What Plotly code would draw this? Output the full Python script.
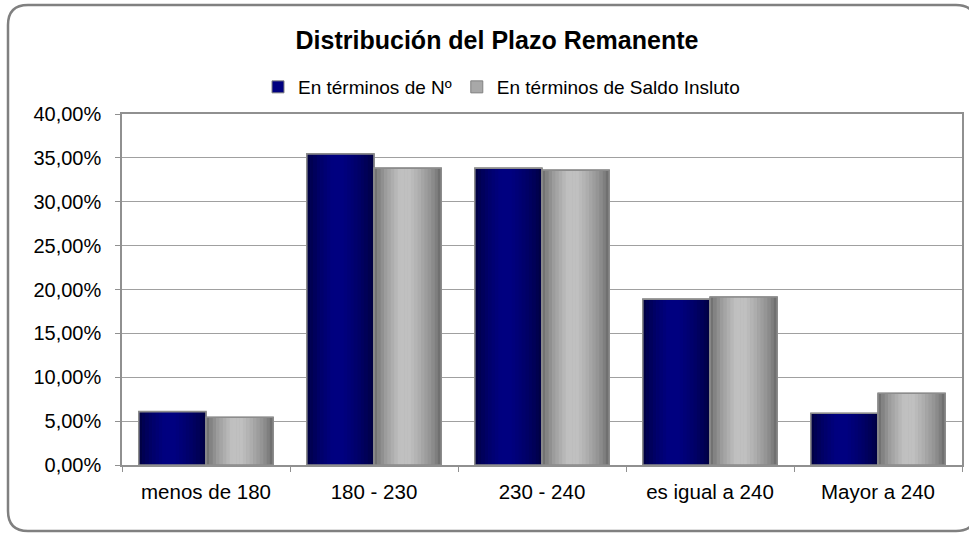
import plotly.graph_objects as go

categories = ["menos de 180", "180 - 230", "230 - 240", "es igual a 240", "Mayor a 240"]
serie_num = [0.0608, 0.3546, 0.3383, 0.1890, 0.0590]
serie_saldo = [0.0544, 0.3383, 0.3360, 0.1915, 0.0818]
series_names = ["En términos de Nº", "En términos de Saldo Insluto"]

W_PX, H_PX = 969, 535
L, R, T, B = 122, 7, 114, 70
PW, PH = W_PX - L - R, H_PX - T - B

def px2paper(x, y):
    return (x - L) / PW, (H_PX - B - y) / PH

def lerp(c1, c2, t):
    return "rgb(%d,%d,%d)" % tuple(round(a + (b - a) * t) for a, b in zip(c1, c2))

def shade(edge, peak, t):
    p = 0.45
    if t < p:
        u = t / p
    else:
        u = (1 - t) / (1 - p)
    u = min(1.0, u ** 0.6 * 1.1)
    return lerp(edge, peak, u)

fig = go.Figure()
bw = 0.4
N = 20
specs = [
    (serie_num, series_names[0], -bw, (0, 0, 55), (0, 0, 128), "#000080"),
    (serie_saldo, series_names[1], 0.0, (95, 95, 95), (192, 192, 192), "#A8A8A8"),
]
for vals, name, off, edge, peak, solid in specs:
    fig.add_trace(go.Bar(x=categories, y=vals, name=name, width=bw, offset=off,
                         marker=dict(color=solid, line=dict(color="#808080", width=1)),
                         showlegend=True, hoverinfo="skip"))
    for k in range(N):
        t = (k + 0.5) / N
        fig.add_trace(go.Bar(x=categories, y=vals, width=bw / N * 1.08,
                             offset=off + k * bw / N,
                             marker=dict(color=shade(edge, peak, t), line=dict(width=0)),
                             showlegend=False, hoverinfo="skip"))
    fig.add_trace(go.Bar(x=categories, y=vals, width=bw, offset=off,
                         marker=dict(color="rgba(0,0,0,0)", line=dict(color="#8c8c8c", width=1.6)),
                         showlegend=False, hovertemplate="%{x}: %{y:.2%}<extra>" + name + "</extra>"))

# rounded outer border
x0, y0, x1, y1, r = 8, 5, 976, 531, 20
def P(x, y):
    a, b = px2paper(x, y)
    return "%.5f,%.5f" % (a, b)
path = ("M " + P(x0 + r, y0) + " L " + P(x1 - r, y0) + " Q " + P(x1, y0) + " " + P(x1, y0 + r) +
        " L " + P(x1, y1 - r) + " Q " + P(x1, y1) + " " + P(x1 - r, y1) +
        " L " + P(x0 + r, y1) + " Q " + P(x0, y1) + " " + P(x0, y1 - r) +
        " L " + P(x0, y0 + r) + " Q " + P(x0, y0) + " " + P(x0 + r, y0) + " Z")

lx, ly = px2paper(258, 87)
fig.update_layout(
    width=W_PX, height=H_PX,
    margin=dict(l=L, r=R, t=T, b=B, autoexpand=False),
    paper_bgcolor="white", plot_bgcolor="white",
    barmode="overlay",
    separators=",.",
    font=dict(family="Liberation Sans, Arial, sans-serif", size=20, color="black"),
    title=dict(text="<b>Distribución del Plazo Remanente</b>", x=497 / W_PX, xanchor="center",
               y=1 - 40 / H_PX, yanchor="middle", xref="container", yref="container",
               font=dict(size=25, color="black")),
    legend=dict(orientation="h", x=lx, y=ly, xanchor="left", yanchor="middle",
                font=dict(size=19), itemwidth=30, tracegroupgap=0, bgcolor="rgba(0,0,0,0)"),
    shapes=[dict(type="path", path=path, xref="paper", yref="paper",
                 line=dict(color="#808080", width=2.5), layer="above")],
)
fig.update_yaxes(range=[0, 0.4], dtick=0.05, tickformat=".2%", showgrid=True, gridcolor="#A0A0A0",
                 gridwidth=1, showline=True, linecolor="#909090", linewidth=1.5, mirror=True,
                 ticks="outside", ticklen=5, tickcolor="#909090", zeroline=False,
                 ticklabelstandoff=10, tickfont=dict(size=20))
fig.update_xaxes(showline=True, linecolor="#909090", linewidth=1.5, mirror=True, ticks="outside",
                 ticklen=5, tickcolor="#909090", tickson="boundaries", showgrid=False,
                 ticklabelstandoff=8, tickfont=dict(size=20.5))

fig.write_html("out.html", config={"displayModeBar": False},
               post_script="document.body.style.margin='0';document.body.style.padding='0';")
